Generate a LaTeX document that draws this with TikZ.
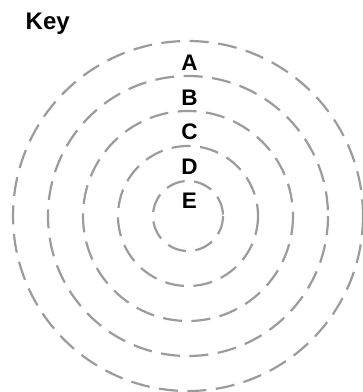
\documentclass[tikz,border=0pt]{standalone}
\usepackage{fontspec}
\setmainfont{Liberation Sans}
\definecolor{ringgray}{RGB}{155,155,155}
\begin{document}
\begin{tikzpicture}[x=1pt,y=-1pt,
  ring/.style={draw=ringgray, line width=2.2pt, dash pattern=on 19pt off 9.5pt},
  lbl/.style={font=\fontsize{22.5}{22.5}\selectfont\bfseries, inner sep=0pt, anchor=base}]
\useasboundingbox (0,0) rectangle (363,392);
\coordinate (c) at (188,216);
\foreach \r/\n in {35/e,70/d,105/c,140/b,175/a}{
  \draw[ring] (c) circle[radius=\r] ;
}
\node[font=\fontsize{24}{24}\selectfont\bfseries, inner sep=0pt, anchor=base west] (key) at (25.5,29) {Key};
\node[lbl] (A) at (189.5,70.5) {A};
\node[lbl] (B) at (189.5,105) {B};
\node[lbl] (C) at (189.5,139.5) {C};
\node[lbl] (D) at (189.5,174) {D};
\node[lbl] (E) at (189.5,208.5) {E};
\end{tikzpicture}
\end{document}
